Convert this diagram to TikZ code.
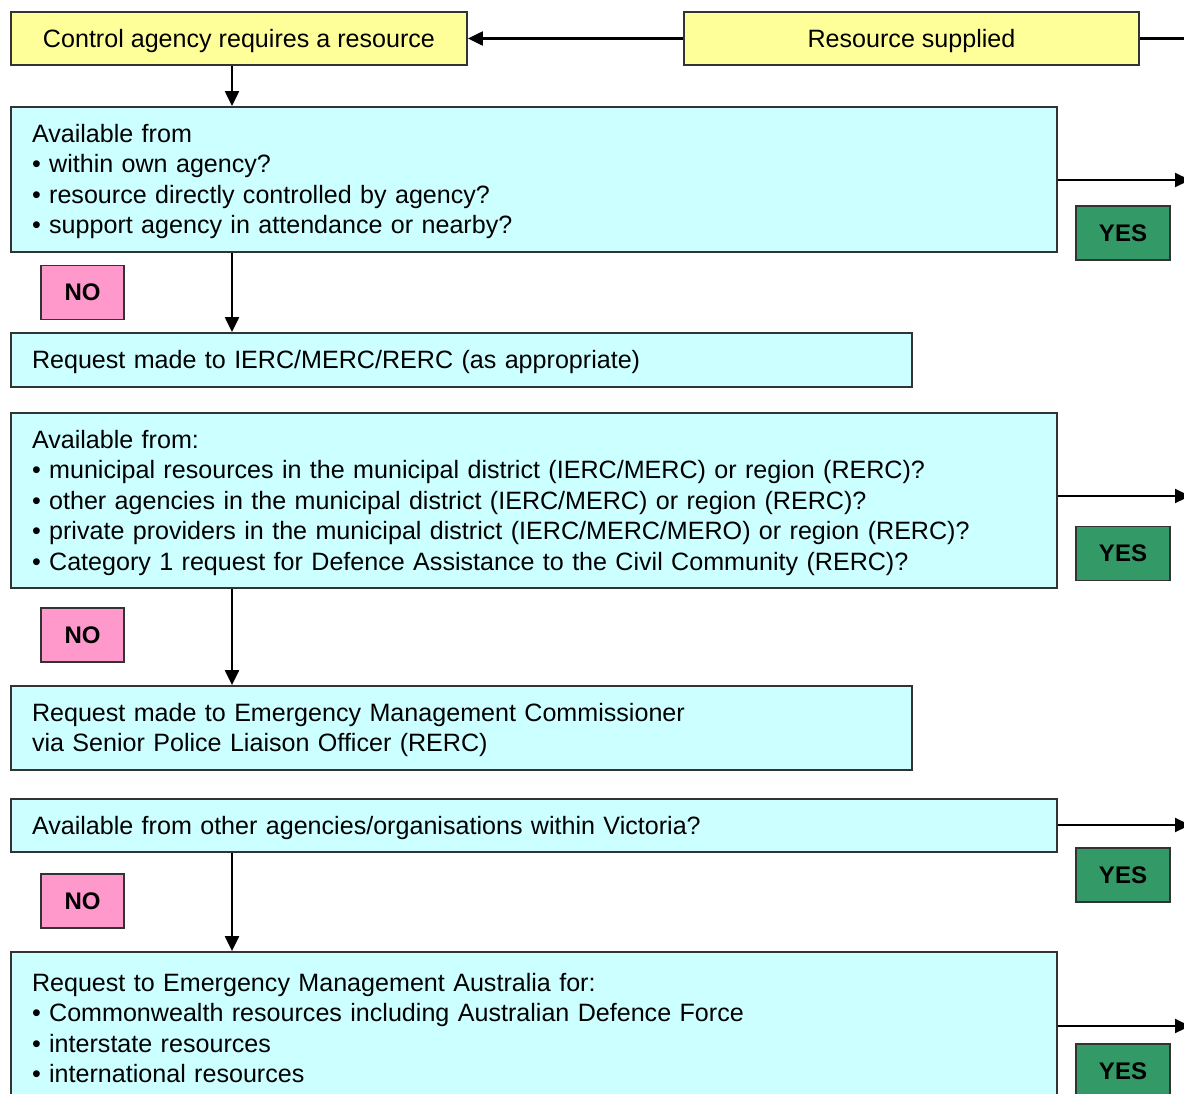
\documentclass[tikz,border=0pt]{standalone}
\usepackage{fontspec}
\setmainfont{Liberation Sans}
\usetikzlibrary{arrows.meta}
\definecolor{boxyellow}{HTML}{FFFF99}
\definecolor{boxcyan}{HTML}{CCFFFF}
\definecolor{boxpink}{HTML}{FF99CC}
\definecolor{boxgreen}{HTML}{339966}
\definecolor{edgegrey}{HTML}{333333}
\tikzset{
  base/.style={draw=edgegrey, line width=1.8pt, rectangle, inner ysep=0pt,
    font=\fontsize{25.1}{30.5}\selectfont},
  strutted/.style={execute at begin node={\rule{0pt}{0.9em}}},
  ybox/.style={base, strutted, fill=boxyellow, align=center, inner xsep=0pt},
  cbox/.style={base, strutted, fill=boxcyan, align=left, inner xsep=21pt},
  nobox/.style={base, fill=boxpink, inner xsep=0pt, minimum width=83pt, minimum height=54pt,
    font=\fontsize{24}{28}\selectfont\bfseries},
  yesbox/.style={base, fill=boxgreen, inner xsep=0pt, minimum width=94pt, minimum height=54pt,
    font=\fontsize{24}{28}\selectfont\bfseries},
  arr/.style={draw=black, line width=2.2pt, -{Triangle[length=15pt,width=14pt]}},
  ln/.style={draw=black, line width=2.2pt}
}
\begin{document}
\begin{tikzpicture}[x=1pt,y=-1pt]
\useasboundingbox (0,0) rectangle (1184,1093);
\fill[white] (0,0) rectangle (1184,1093);
\clip (0,0) rectangle (1184,1093);

% yellow boxes
\node[ybox, minimum width=456pt, minimum height=53pt] (need) at (239,38.5) {Control agency requires a resource};
\node[ybox, minimum width=455pt, minimum height=53pt] (supplied) at (911.5,38.5) {Resource supplied};

% cyan boxes
\node[cbox, minimum width=1046pt, minimum height=145pt, text width=1004pt] (c1) at (534,179.5)
  {Available from\\
   \textbullet\ within own agency?\\
   \textbullet\ resource directly controlled by agency?\\
   \textbullet\ support agency in attendance or nearby?};
\node[cbox, minimum width=901pt, minimum height=54pt, text width=859pt] (c2) at (461.5,360)
  {Request made to IERC/MERC/RERC (as appropriate)};
\node[cbox, minimum width=1046pt, minimum height=175pt, text width=1004pt] (c3) at (534,500.5)
  {Available from:\\
   \textbullet\ municipal resources in the municipal district (IERC/MERC) or region (RERC)?\\
   \textbullet\ other agencies in the municipal district (IERC/MERC) or region (RERC)?\\
   \textbullet\ private providers in the municipal district (IERC/MERC/MERO) or region (RERC)?\\
   \textbullet\ Category 1 request for Defence Assistance to the Civil Community (RERC)?};
\node[cbox, minimum width=901pt, minimum height=84pt, text width=859pt] (c4) at (461.5,728)
  {Request made to Emergency Management Commissioner\\
   via Senior Police Liaison Officer (RERC)};
\node[cbox, minimum width=1046pt, minimum height=53pt, text width=1004pt] (c5) at (534,825.5)
  {Available from other agencies/organisations within Victoria?};
\node[cbox, minimum width=1046pt, minimum height=148pt, text width=1004pt] (c6) at (534,1026)
  {Request to Emergency Management Australia for:\\
   \textbullet\ Commonwealth resources including Australian Defence Force\\
   \textbullet\ interstate resources\\
   \textbullet\ international resources};

% NO boxes
\node[nobox] (no1) at (82.5,292.5) {NO};
\node[nobox] (no2) at (82.5,635) {NO};
\node[nobox] (no3) at (82.5,901) {NO};

% YES boxes
\node[yesbox] (yes1) at (1123,233) {YES};
\node[yesbox] (yes2) at (1123,553.5) {YES};
\node[yesbox] (yes3) at (1123,875) {YES};
\node[yesbox] (yes4) at (1123,1071) {YES};

% helper coordinates
\coordinate (spine) at (232,0);
\coordinate (top) at (1190,38.5);
\coordinate (r1) at (1190,180);
\coordinate (r2) at (1190,496);
\coordinate (r3) at (1190,825);
\coordinate (r4) at (1190,1026);

% connectors
\draw[arr] (supplied.west) -- (need.east);
\draw[ln] (supplied.east) -- (top);
\draw[arr] (need.south -| spine) -- (c1.north -| spine);
\draw[arr] (c1.south -| spine) -- (c2.north -| spine);
\draw[arr] (c3.south -| spine) -- (c4.north -| spine);
\draw[arr] (c5.south -| spine) -- (c6.north -| spine);
\draw[arr] (c1.east |- r1) -- (r1);
\draw[arr] (c3.east |- r2) -- (r2);
\draw[arr] (c5.east |- r3) -- (r3);
\draw[arr] (c6.east |- r4) -- (r4);
\end{tikzpicture}
\end{document}
